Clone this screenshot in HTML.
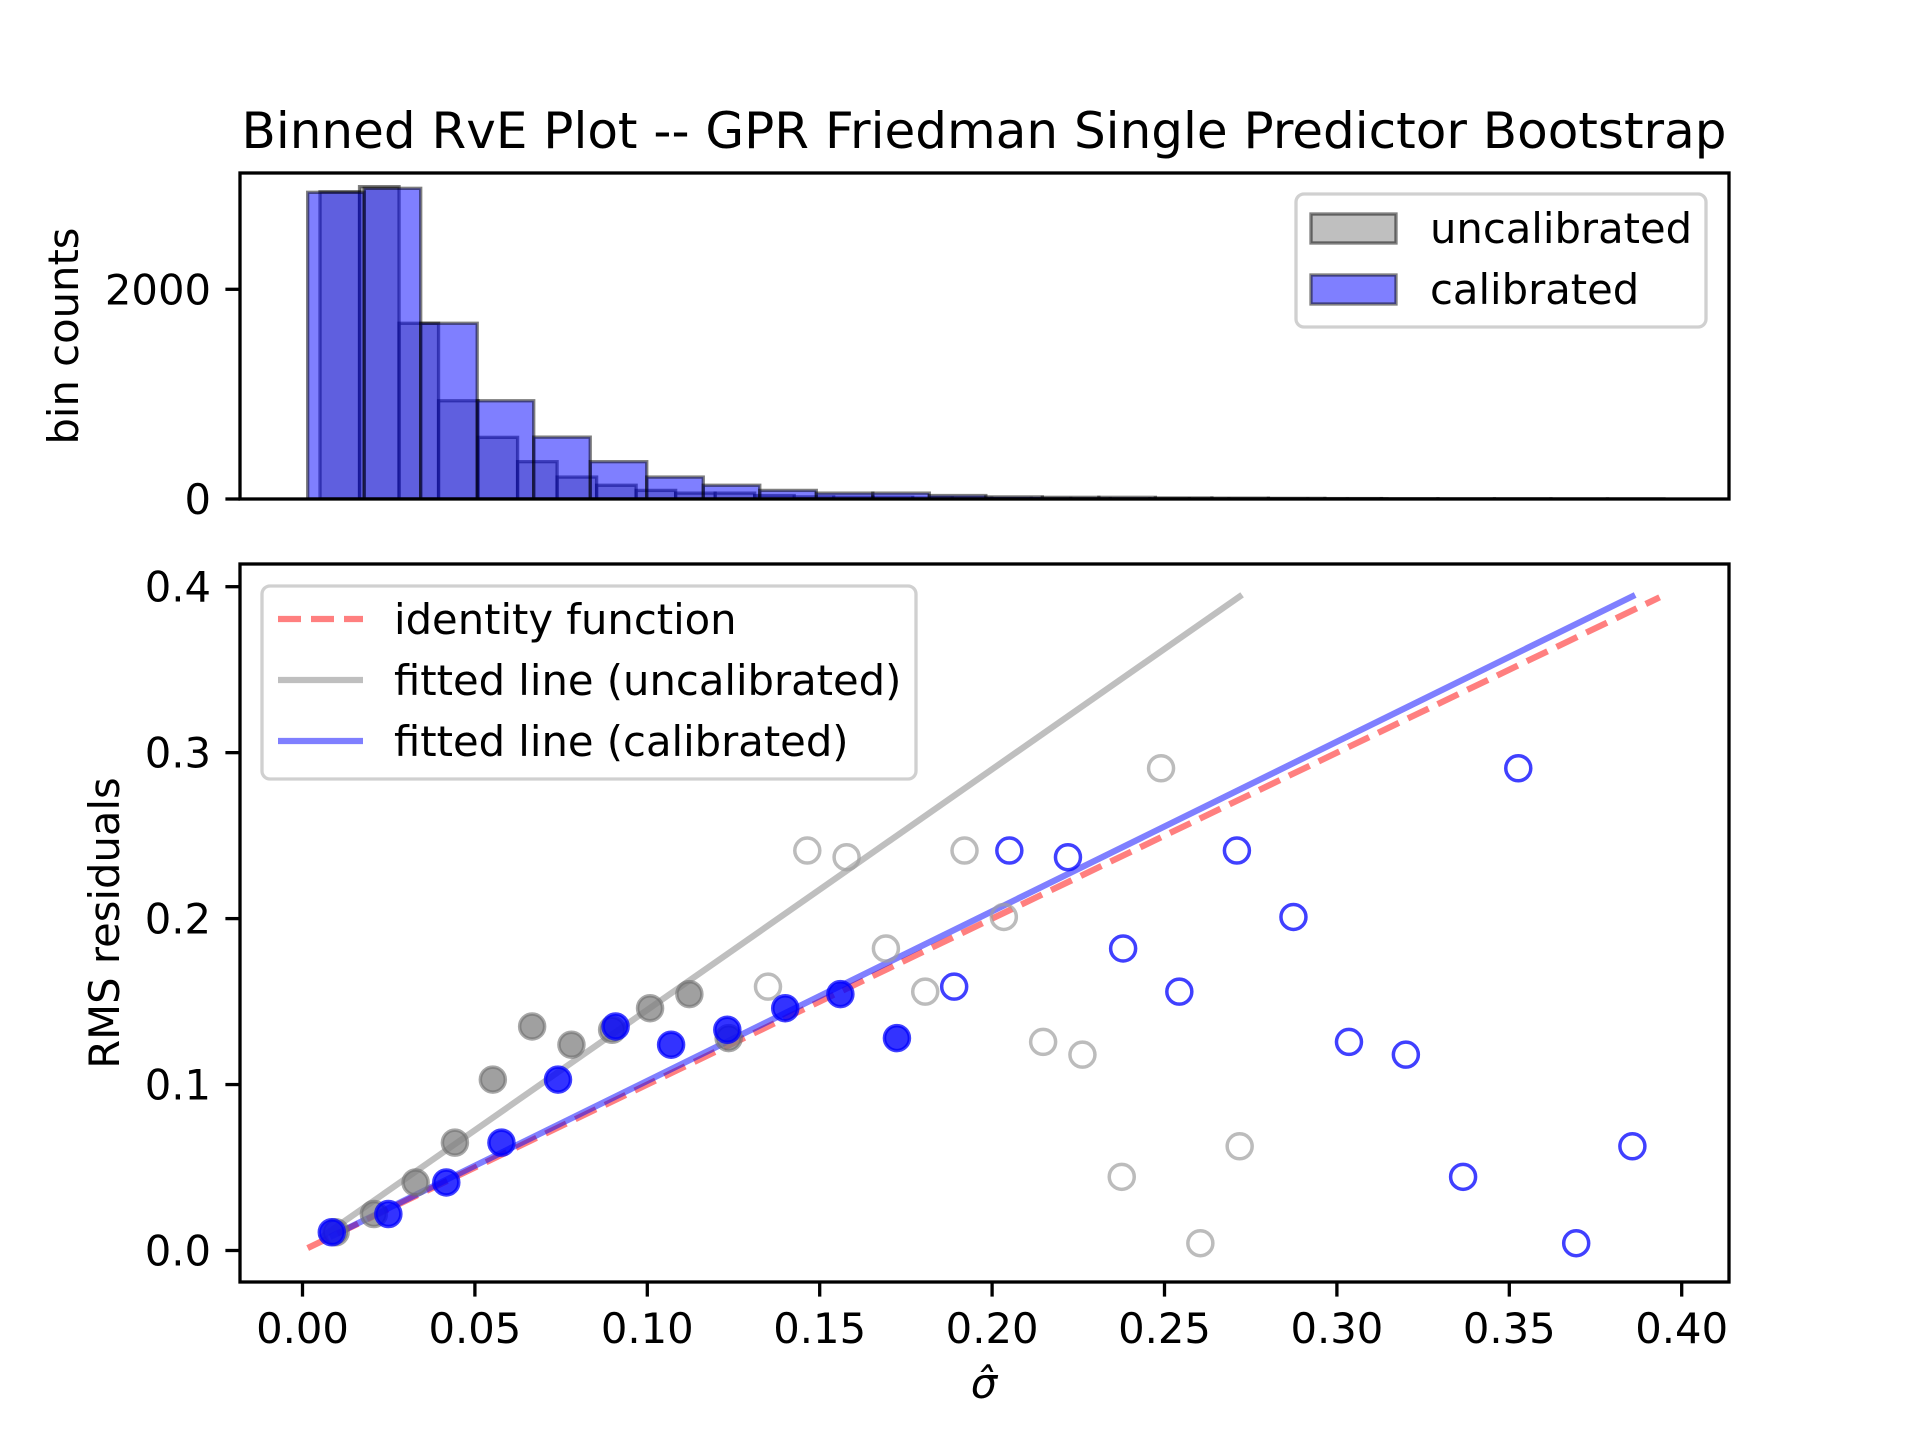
<!DOCTYPE html>
<html><head><meta charset="utf-8"><style>
html,body{margin:0;padding:0;background:#fff;}
svg text{font-family:"DejaVu Sans","Liberation Sans",sans-serif;fill:#000;}
</style></head><body>
<svg id="fig" xmlns="http://www.w3.org/2000/svg" width="1920" height="1440" viewBox="0 0 1920 1440">
<rect width="1920" height="1440" fill="#fff"/>
<text x="984" y="148" font-size="50" text-anchor="middle">Binned RvE Plot -- GPR Friedman Single Predictor Bootstrap</text>
<g id="hist"></g>
<g id="scat"></g>
</svg>
<script>
// ---- data ----
const uncalStart = 0.00508, uncalWidth = 0.01146;
const uncalCounts = [2930,2979,1676,937,588,356,209,131,82,56,56,33,20,16,16,10,8,6,5,4,3,3,2,2,2,1,1];
const calStart = 0.0015, calWidth = 0.01639;
const calCounts = [2925,2963,1676,937,590,356,209,131,82,56,56,33,20,16,16,10,8,6,4,3,2,2,1,1];
const uncalX = [0.0096,0.0207,0.0328,0.0442,0.0552,0.0666,0.078,0.0898,0.1008,0.1122,0.1236,0.135,0.1464,0.1578,0.1692,0.1806,0.192,0.2034,0.2148,0.2262,0.2376,0.249,0.2604,0.2718];
const calX = [0.0085,0.0249,0.0417,0.0577,0.0741,0.0908,0.1069,0.1232,0.140,0.156,0.1724,0.189,0.205,0.222,0.238,0.2543,0.271,0.2874,0.3035,0.320,0.3366,0.3526,0.3694,0.3857];
const rmsY = [0.011,0.022,0.041,0.065,0.103,0.135,0.124,0.133,0.146,0.1545,0.128,0.159,0.241,0.237,0.182,0.156,0.241,0.201,0.1257,0.118,0.0444,0.2906,0.0044,0.0628];
const filledCount = 11;
const identityRange = [0.0015,0.3936];
const uncalFit = [1.45,0.0,0.005,0.2725];   // slope, intercept, x0, x1
const calFit = [1.022,0.0,0.008,0.3865];
const xTicks = [0,0.05,0.10,0.15,0.20,0.25,0.30,0.35,0.40];
const xTickLabels = ["0.00","0.05","0.10","0.15","0.20","0.25","0.30","0.35","0.40"];
const yTicksB = [0,0.1,0.2,0.3,0.4];
const yTickLabelsB = ["0.0","0.1","0.2","0.3","0.4"];
const yTicksT = [0,2000];
const yTickLabelsT = ["0","2000"];

// ---- geometry ----
const L=240,R=1729,TT=173,TB=499,BT=564,BB=1282;
const X = v => 302.5 + v*3448;
const YT = c => 499 - c*0.10485;
const YB = v => 1250.5 - v*1659.5;
const NS="http://www.w3.org/2000/svg";
function mk(tag, attrs, parent){const e=document.createElementNS(NS,tag);for(const k in attrs)e.setAttribute(k,attrs[k]);parent.appendChild(e);return e;}

// ---- histogram ----
const H=document.getElementById('hist');
mk('defs',{},H).innerHTML='<clipPath id="ct"><rect x="240" y="173" width="1489" height="326"/></clipPath><clipPath id="cb"><rect x="240" y="564" width="1489" height="718"/></clipPath>';
const hg=mk('g',{'clip-path':'url(#ct)'},H);
uncalCounts.forEach((c,i)=>{
  const x0=X(uncalStart+i*uncalWidth), x1=X(uncalStart+(i+1)*uncalWidth);
  const r=mk('rect',{x:x0,y:YT(c),width:x1-x0,height:YT(0)-YT(c),fill:'rgba(128,128,128,0.5)',stroke:'rgba(0,0,0,0.5)','stroke-width':3.3},hg);
  
  
});
calCounts.forEach((c,i)=>{
  const x0=X(calStart+i*calWidth), x1=X(calStart+(i+1)*calWidth);
  const r=mk('rect',{x:x0,y:YT(c),width:x1-x0,height:YT(0)-YT(c),fill:'rgba(0,0,255,0.5)',stroke:'rgba(0,0,0,0.5)','stroke-width':3.3},hg);
  
  
});
yTicksT.forEach((t,i)=>{
  const y=YT(t);
  mk('line',{x1:L-14.6,x2:L,y1:y,y2:y,stroke:'#000','stroke-width':3.3},H);
  const tx=mk('text',{x:L-29,y:y+15,'font-size':41.7,'text-anchor':'end'},H);
  tx.textContent=yTickLabelsT[i];
  
  
});
mk('rect',{x:L,y:TT,width:R-L,height:TB-TT,fill:'none',stroke:'#000','stroke-width':3.3},H);
const ylt=mk('text',{x:0,y:0,'font-size':41.7,'text-anchor':'middle',transform:'translate(78,336) rotate(-90)'},H);
ylt.textContent='bin counts';


// legend top
const lt=mk('g',{},H);


mk('rect',{x:1296,y:194,width:410,height:133,rx:8,fill:'rgba(255,255,255,0.8)',stroke:'#d0d0d0','stroke-width':3.3},lt);
mk('rect',{x:1311,y:214,width:85,height:29,fill:'rgba(128,128,128,0.5)',stroke:'rgba(0,0,0,0.5)','stroke-width':3.3},lt);
mk('rect',{x:1311,y:275,width:85,height:29,fill:'rgba(0,0,255,0.5)',stroke:'rgba(0,0,0,0.5)','stroke-width':3.3},lt);
let t1=mk('text',{x:1430,y:243,'font-size':41.7},lt);t1.textContent='uncalibrated';


let t2=mk('text',{x:1430,y:304,'font-size':41.7},lt);t2.textContent='calibrated';



// ---- scatter ----
const S=document.getElementById('scat');
const sg=mk('g',{'clip-path':'url(#cb)'},S);
mk('line',{x1:X(identityRange[0]),y1:YB(identityRange[0]),x2:X(identityRange[1]),y2:YB(identityRange[1]),stroke:'rgba(255,0,0,0.5)','stroke-width':6.25,'stroke-dasharray':'23 10'},sg);
const gl=mk('line',{x1:X(uncalFit[2]),y1:YB(uncalFit[0]*uncalFit[2]+uncalFit[1]),x2:X(uncalFit[3]),y2:YB(uncalFit[0]*uncalFit[3]+uncalFit[1]),stroke:'rgba(128,128,128,0.5)','stroke-width':6.25},sg);

const bl=mk('line',{x1:X(calFit[2]),y1:YB(calFit[0]*calFit[2]+calFit[1]),x2:X(calFit[3]),y2:YB(calFit[0]*calFit[3]+calFit[1]),stroke:'rgba(0,0,255,0.5)','stroke-width':6.25},sg);

uncalX.forEach((x,i)=>{
  const f=i<filledCount;
  const c=mk('circle',{cx:X(x),cy:YB(rmsY[i]),r:12.5,fill:f?'rgba(128,128,128,0.75)':'none',stroke:f?'rgba(110,110,110,0.6)':'rgba(160,160,160,0.7)','stroke-width':3.5},sg);
  
  
});
calX.forEach((x,i)=>{
  const f=i<filledCount;
  const c=mk('circle',{cx:X(x),cy:YB(rmsY[i]),r:12.5,fill:f?'rgba(0,0,255,0.8)':'none',stroke:'rgba(0,0,255,0.75)','stroke-width':3.5},sg);
  
  
});
xTicks.forEach((t,i)=>{
  const x=X(t);
  mk('line',{x1:x,x2:x,y1:BB,y2:BB+14.6,stroke:'#000','stroke-width':3.3},S);
  const tx=mk('text',{x:x,y:1343,'font-size':41.7,'text-anchor':'middle'},S);
  tx.textContent=xTickLabels[i];
  
  
});
yTicksB.forEach((t,i)=>{
  const y=YB(t);
  mk('line',{x1:L-14.6,x2:L,y1:y,y2:y,stroke:'#000','stroke-width':3.3},S);
  const tx=mk('text',{x:L-29,y:y+15,'font-size':41.7,'text-anchor':'end'},S);
  tx.textContent=yTickLabelsB[i];
  
  
});
mk('rect',{x:L,y:BT,width:R-L,height:BB-BT,fill:'none',stroke:'#000','stroke-width':3.3},S);
const ylb=mk('text',{x:0,y:0,'font-size':41.7,'text-anchor':'middle',transform:'translate(119,923) rotate(-90)'},S);
ylb.textContent='RMS residuals';


const xl=mk('text',{x:984,y:1398,'font-size':41.7,'text-anchor':'middle','font-style':'italic'},S);
xl.textContent='σ̂';


// legend bottom
const lb=mk('g',{},S);


mk('rect',{x:262,y:586,width:654,height:193,rx:8,fill:'rgba(255,255,255,0.8)',stroke:'#d0d0d0','stroke-width':3.3},lb);
mk('line',{x1:278,x2:363,y1:619,y2:619,stroke:'rgba(255,0,0,0.5)','stroke-width':6.25,'stroke-dasharray':'23 10'},lb);
mk('line',{x1:278,x2:363,y1:680,y2:680,stroke:'rgba(128,128,128,0.5)','stroke-width':6.25},lb);
mk('line',{x1:278,x2:363,y1:741,y2:741,stroke:'rgba(0,0,255,0.5)','stroke-width':6.25},lb);
[['identity function',634,'legend-entry-identity'],['fitted line (uncalibrated)',695,'legend-entry-fit-uncalibrated'],['fitted line (calibrated)',756,'legend-entry-fit-calibrated']].forEach(a=>{
  const tx=mk('text',{x:394,y:a[1],'font-size':41.7},lb);
  tx.textContent=a[0];
  
  
});
</script>
</body></html>
